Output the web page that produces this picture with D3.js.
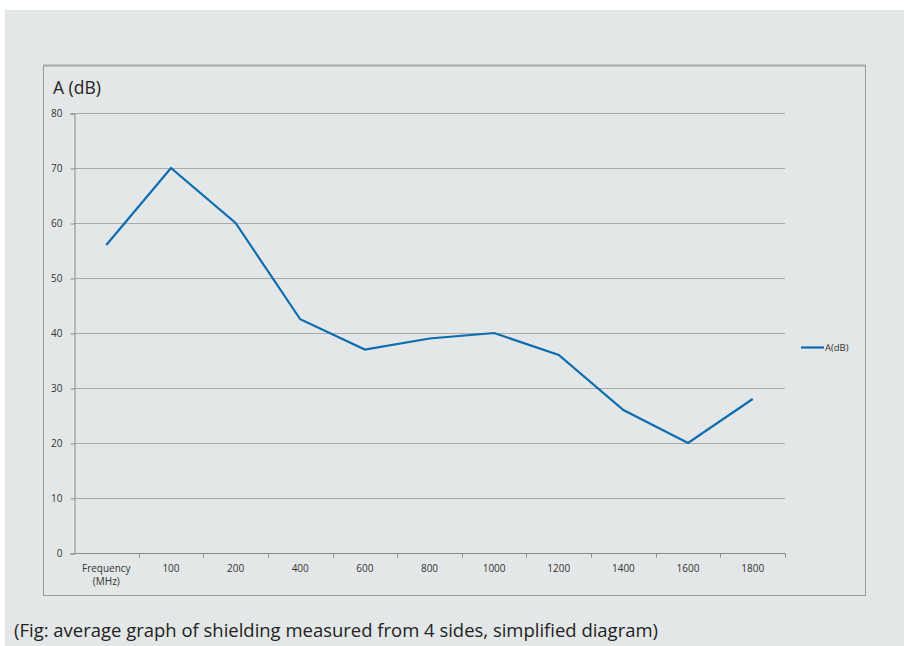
<!DOCTYPE html>
<html><head><meta charset="utf-8">
<script src="https://cdn.jsdelivr.net/npm/d3@7/dist/d3.min.js"></script>
<style>
html,body{margin:0;padding:0;background:#fff;}
svg{display:block;}
text{font-family:"Open Sans","Noto Sans",sans-serif;}
</style></head>
<body><div id="chart"></div>
<script>
const categories = ["Frequency\n(MHz)","100","200","400","600","800","1000","1200","1400","1600","1800"];
const values = [56,70,60,42.5,37,39,40,36,26,20,28];
const yTicks = [0,10,20,30,40,50,60,70,80];
const seriesName = "A(dB)";
const yTitle = "A (dB)";
const caption = "(Fig: average graph of shielding measured from 4 sides, simplified diagram)";

const W=904,H=646;
const svg=d3.select("#chart").append("svg").attr("width",W).attr("height",H);
svg.append("rect").attr("x",5).attr("y",10).attr("width",W-5).attr("height",H-10).attr("fill","#e4e7e8");
// chart box
svg.append("rect").attr("x",43.5).attr("y",65.5).attr("width",822).attr("height",530)
  .attr("fill","none").attr("stroke","#9a9a9a").attr("stroke-width",1);
svg.append("line").attr("x1",43).attr("x2",866).attr("y1",65.5).attr("y2",65.5).attr("stroke","#a8a8a8").attr("stroke-width",2);

const L=74,R=785,T=113,B=553;
const x=d3.scaleBand().domain(categories).range([L,R]);
const y=d3.scaleLinear().domain([0,80]).range([B,T]);

// gridlines
svg.append("g").selectAll("line").data(yTicks.filter(d=>d>0)).join("line")
  .attr("x1",L).attr("x2",R).attr("y1",d=>Math.round(y(d))+0.5).attr("y2",d=>Math.round(y(d))+0.5)
  .attr("stroke","#a9a9a9").attr("stroke-width",1);

// y axis
const ya=svg.append("g").attr("transform",`translate(${L+0.5},0.5)`)
  .call(d3.axisLeft(y).tickValues(yTicks).tickSize(4).tickPadding(8));
ya.select(".domain").attr("stroke","#8a8a8a");
ya.selectAll(".tick line").attr("stroke","#8a8a8a");
ya.selectAll(".tick text").attr("fill","#333").style("font-size","10px");

// x axis
const xa=svg.append("g").attr("transform",`translate(0.5,${B+0.5})`)
  .call(d3.axisBottom(x).tickSize(0).tickPadding(12).tickFormat(""));
xa.select(".domain").attr("stroke","#8a8a8a").attr("d",`M${L},0H${R}`);
const bounds=categories.map(c=>x(c)).concat([R]);
xa.selectAll(".bt").data(bounds.slice(1)).join("line").attr("class","bt")
  .attr("x1",d=>Math.round(d)).attr("x2",d=>Math.round(d)).attr("y1",0).attr("y2",4).attr("stroke","#8a8a8a");
const lblG=svg.append("g");
categories.forEach(c=>{
  c.split("\n").forEach((p,i)=>{
    lblG.append("text").attr("x",x(c)+x.bandwidth()/2).attr("y",B+19+i*13)
      .attr("text-anchor","middle").attr("fill","#333").style("font-size","10px").text(p);
  });
});

// line
const line=d3.line().x((d,i)=>x(categories[i])+x.bandwidth()/2).y(d=>y(d));
svg.append("path").datum(values).attr("d",line).attr("fill","none")
  .attr("stroke","#0b6cb0").attr("stroke-width",2.2).attr("stroke-linejoin","miter");

// legend
svg.append("line").attr("x1",801).attr("x2",824).attr("y1",347.5).attr("y2",347.5)
  .attr("stroke","#0b6cb0").attr("stroke-width",2.2);
svg.append("text").attr("x",825).attr("y",351).text(seriesName).attr("fill","#333").style("font-size","9.5px");

// titles
svg.append("text").attr("x",53).attr("y",94).text(yTitle).attr("fill","#222").style("font-size","17.5px");
svg.append("text").attr("x",14).attr("y",637).text(caption).attr("fill","#222")
  .style("font-size","17.5px").attr("textLength",644).attr("lengthAdjust","spacingAndGlyphs");
</script></body></html>
